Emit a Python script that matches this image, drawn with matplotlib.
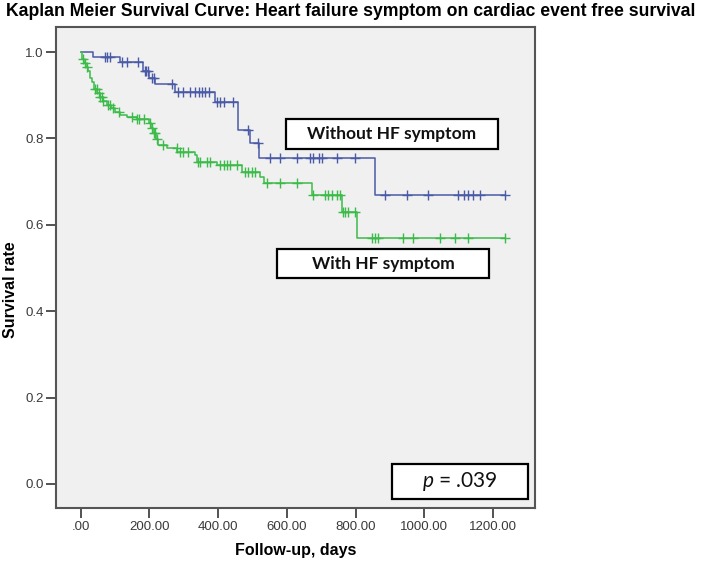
import numpy as np
import matplotlib
matplotlib.use("Agg")
import matplotlib.pyplot as plt
from matplotlib.patches import Rectangle

# ---------------- data ----------------
title = "Kaplan Meier Survival Curve: Heart failure symptom on cardiac event free survival"
x_label = "Follow-up, days"
y_label = "Survival rate"
x_ticks = [0, 200, 400, 600, 800, 1000, 1200]
x_tick_labels = [".00", "200.00", "400.00", "600.00", "800.00", "1000.00", "1200.00"]
y_ticks = [0.0, 0.2, 0.4, 0.6, 0.8, 1.0]
y_tick_labels = ["0.0", "0.2", "0.4", "0.6", "0.8", "1.0"]

# Without HF symptom (event times / survival after event)
noHF_times = [0, 37, 115, 182, 200, 215, 275, 391, 459, 493, 520, 857]
noHF_surv = [1.0, 0.988, 0.976, 0.955, 0.94, 0.927, 0.908, 0.885, 0.82, 0.79, 0.755, 0.67]
noHF_censor = [71, 76, 86, 119, 134, 168, 186, 190, 195, 207, 212, 265,
               284, 299, 318, 333, 343, 352, 362, 372, 396, 406, 416, 444,
               488, 517, 551, 580, 629, 668, 677, 692, 702, 745, 799,
               886, 949, 1012, 1099, 1114, 1128, 1143, 1163, 1235]

# With HF symptom
HF_times = [0, 5, 10, 15, 20, 27, 33, 40, 48, 55, 65, 75, 88, 100, 115, 135,
            165, 200, 205, 210, 218, 225, 250, 280, 333, 338, 396, 469, 522,
            532, 672, 760, 803]
HF_surv = [1.0, 0.985, 0.975, 0.965, 0.955, 0.94, 0.93, 0.915, 0.905, 0.895,
           0.886, 0.878, 0.87, 0.862, 0.855, 0.85, 0.845, 0.835, 0.825, 0.812,
           0.798, 0.785, 0.777, 0.769, 0.762, 0.746, 0.738, 0.723, 0.711,
           0.696, 0.669, 0.630, 0.569]
HF_censor = [8, 13, 17, 42, 47, 52, 57, 61, 65, 80, 85, 95, 110, 150, 165, 170,
             185, 202, 207, 212, 216, 221, 240, 279, 289, 299, 313, 340, 348,
             367, 377, 406, 416, 425, 435, 455, 479, 488, 498, 508, 542, 580,
             629, 677, 711, 721, 731, 745, 755, 763, 770, 779, 799, 847, 857,
             866, 939, 968, 1046, 1090, 1128, 1235]

label_noHF = "Without HF symptom"
label_HF = "With HF symptom"
p_text = r"$p$ = .039"

# ---------------- style ----------------
blue = "#4A5AA6"
green = "#3DBB4A"
narrow = ["Liberation Sans Narrow", "Liberation Sans", "DejaVu Sans"]
plt.rcParams["mathtext.fontset"] = "custom"
plt.rcParams["mathtext.it"] = "Lato:italic"
plt.rcParams["mathtext.rm"] = "Lato"

fig = plt.figure(figsize=(7.02, 5.66), dpi=100)
W, H = 702, 566
L, R, T, B = 56, 535, 27, 508
ax = fig.add_axes([L / W, 1 - B / H, (R - L) / W, (B - T) / H])
ax.set_facecolor("#F0F0F0")


def draw(times, surv, censor, color):
    t = np.array(times, dtype=float)
    s = np.array(surv, dtype=float)
    c = np.array(censor, dtype=float)
    tend = max(t.max(), c.max())
    ax.step(np.append(t, tend), np.append(s, s[-1]), where="post",
            color=color, lw=1.1, zorder=3)
    idx = np.searchsorted(t, c, side="right") - 1
    ax.plot(c, s[idx], ls="none", marker="+", ms=7, mew=1.0,
            color=color, zorder=4)


draw(noHF_times, noHF_surv, noHF_censor, blue)
draw(HF_times, HF_surv, HF_censor, green)

ax.set_xlim(-72, 1322)
ax.set_ylim(-0.0556, 1.058)
ax.set_xticks(x_ticks)
ax.set_xticklabels(x_tick_labels)
ax.set_yticks(y_ticks)
ax.set_yticklabels(y_tick_labels)
ax.tick_params(axis="both", direction="out", length=7, width=1.3,
               color="#444444", labelcolor="#3A3A3A", labelsize=9.5, pad=2)
for lab in ax.get_xticklabels() + ax.get_yticklabels():
    lab.set_family(narrow)
for sp in ax.spines.values():
    sp.set_color("#555555")
    sp.set_linewidth(1.5)

ax.set_xlabel(x_label, family=narrow, fontweight="bold", fontsize=11.5)
ax.xaxis.set_label_coords(0.5, (B - 543) / (B - T))
ax.set_ylabel(y_label, family=narrow, fontweight="bold", fontsize=11.5)
ax.yaxis.set_label_coords((11 - L) / (R - L), (B - 290) / (B - T))
ax.yaxis.label.set_va("center")

fig.text(0.5, 1 - 12 / H, title, ha="center", va="center",
         family=narrow, fontweight="bold", fontsize=12.7)


def box(x0, x1, y0, y1, text, **kw):
    ax0 = (x0 - L) / (R - L)
    ax1 = (x1 - L) / (R - L)
    ay0 = (B - y1) / (B - T)
    ay1 = (B - y0) / (B - T)
    ax.add_patch(Rectangle((ax0, ay0), ax1 - ax0, ay1 - ay0,
                           transform=ax.transAxes, facecolor="white",
                           edgecolor="black", lw=1.6, zorder=5))
    ax.text((ax0 + ax1) / 2, (ay0 + ay1) / 2, text, transform=ax.transAxes,
            ha="center", va="center", zorder=6, color="#111111", **kw)


box(286, 498, 119, 149, label_noHF, family="Lato", fontweight="bold", fontsize=12.5)
box(277, 489, 249, 278, label_HF, family="Lato", fontweight="bold", fontsize=12.5)
box(392, 528, 464, 499, p_text, family="Lato", fontsize=15)

fig.savefig("out.png", dpi=100, facecolor="white")
